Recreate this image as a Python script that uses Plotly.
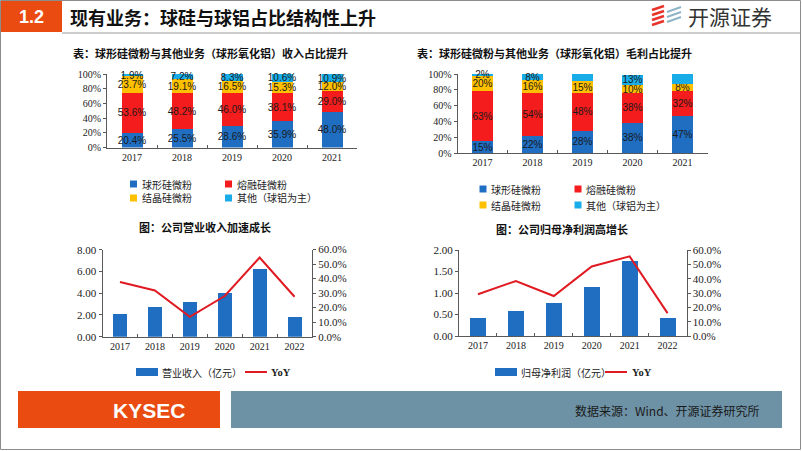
import plotly.graph_objects as go

W, H = 802, 451

# ---------------- data ----------------
years5 = ['2017', '2018', '2019', '2020', '2021']
years6 = ['2017', '2018', '2019', '2020', '2021', '2022']
series_names = ['球形硅微粉', '熔融硅微粉', '结晶硅微粉', '其他（球铝为主）']

rev_share_sph = [20.4, 25.5, 28.6, 35.9, 48.0]
rev_share_fused = [53.6, 48.2, 46.0, 38.1, 29.0]
rev_share_cryst = [23.7, 19.1, 16.5, 15.3, 12.0]
rev_share_other = [1.9, 7.2, 8.3, 10.6, 10.9]

gp_share_sph = [15, 22, 28, 38, 47]
gp_share_fused = [63, 54, 48, 38, 32]
gp_share_cryst = [20, 16, 15, 10, 8]
gp_share_other = [2, 8, 10, 13, 14]

revenue = [2.09, 2.77, 3.15, 4.04, 6.24, 1.80]
revenue_yoy = [0.376, 0.318, 0.137, 0.280, 0.545, 0.275]
net_profit = [0.42, 0.58, 0.76, 1.13, 1.74, 0.43]
net_profit_yoy = [0.291, 0.384, 0.279, 0.485, 0.556, 0.160]

pct_ticks = [0, 20, 40, 60, 80, 100]
pct_ticktext = ['0%', '20%', '40%', '60%', '80%', '100%']
revenue_ticks = [0, 2, 4, 6, 8]
revenue_ticktext = ['0.00', '2.00', '4.00', '6.00', '8.00']
profit_ticks = [0, 0.5, 1.0, 1.5, 2.0]
yoy_ticks = [0, 0.1, 0.2, 0.3, 0.4, 0.5, 0.6]

# ---------------- style ----------------
BLUE = '#1F6EC2'
RED = '#F41C1C'
GOLD = '#FFC000'
LBLUE = '#18ADE8'
LINE_RED = '#E01A22'
ORANGE = '#E94B10'
STEEL = '#6D91A5'
CJK = 'Noto Sans CJK SC'
SERIF = 'Liberation Serif'
SANS = 'Liberation Sans'
seg_colors = [BLUE, RED, GOLD, LBLUE]


def px(x):
    return x / W


def py(y):
    return 1 - y / H


fig = go.Figure()

# ---------------- top stacked charts ----------------
for xa, ya, data, tmpl in [
    ('x', 'y', [rev_share_sph, rev_share_fused, rev_share_cryst, rev_share_other], '%{y:.1f}%'),
    ('x2', 'y2', [gp_share_sph, gp_share_fused, gp_share_cryst, gp_share_other], '%{y:.0f}%'),
]:
    for name, vals, col in zip(series_names, data, seg_colors):
        fig.add_trace(go.Bar(
            x=years5, y=vals, name=name, width=0.42,
            marker=dict(color=col, line=dict(width=0)),
            texttemplate=tmpl, textposition='inside', insidetextanchor='middle',
            textangle=0, constraintext='none', cliponaxis=False,
            textfont=dict(family=SANS, size=10, color='#1a1a1a'),
            xaxis=xa, yaxis=ya, showlegend=False, hoverinfo='skip'))

# ---------------- bottom combo charts ----------------
fig.add_trace(go.Bar(x=years6, y=revenue, width=0.4, marker=dict(color=BLUE, line=dict(width=0)),
                     xaxis='x3', yaxis='y3', showlegend=False, name='营业收入（亿元）'))
fig.add_trace(go.Scatter(x=years6, y=revenue_yoy, mode='lines', line=dict(color=LINE_RED, width=2),
                         xaxis='x3', yaxis='y5', showlegend=False, name='YoY'))
fig.add_trace(go.Bar(x=years6, y=net_profit, width=0.42, marker=dict(color=BLUE, line=dict(width=0)),
                     xaxis='x4', yaxis='y4', showlegend=False, name='归母净利润（亿元）'))
fig.add_trace(go.Scatter(x=years6, y=net_profit_yoy, mode='lines', line=dict(color=LINE_RED, width=2),
                         xaxis='x4', yaxis='y6', showlegend=False, name='YoY'))

tickfont = dict(family=SERIF, size=10, color='#222222')
base = dict(showline=True, linecolor='#595959', linewidth=1, showgrid=False, zeroline=False,
            ticks='outside', ticklen=3, tickcolor='#595959', tickfont=tickfont, fixedrange=True,
            automargin=False, ticklabeloverflow='allow')
xbase = dict(base, type='category', ticks='inside', tickson='boundaries', ticklen=3)

fig.update_layout(
    template='none',
    width=W, height=H, margin=dict(l=0, r=0, t=0, b=0, pad=0, autoexpand=False),
    font=dict(family=SERIF, size=10, color='#222222'),
    showlegend=False,
    paper_bgcolor='white', plot_bgcolor='rgba(0,0,0,0)',
    barmode='stack', bargap=0.58,
    xaxis=dict(xbase, domain=[px(107), px(357)], anchor='y'),
    yaxis=dict(base, domain=[py(147.5), py(74)], anchor='x', range=[0, 100.01],
               tickvals=pct_ticks, ticktext=pct_ticktext),
    xaxis2=dict(xbase, domain=[px(457.5), px(707.5)], anchor='y2'),
    yaxis2=dict(base, domain=[py(153), py(74)], anchor='x2', range=[0, 100.01],
                tickvals=pct_ticks, ticktext=pct_ticktext),
    xaxis3=dict(xbase, domain=[px(102.5), px(312)], anchor='y3'),
    yaxis3=dict(base, domain=[py(336.7), py(249.5)], anchor='x3', range=[0, 8.03],
                tickvals=revenue_ticks, ticktext=revenue_ticktext, tickfont=dict(tickfont, size=11)),
    yaxis5=dict(base, overlaying='y3', side='right', anchor='x3', range=[0, 0.6001],
                tickvals=yoy_ticks, tickformat='.1%', tickfont=dict(tickfont, size=11)),
    xaxis4=dict(xbase, domain=[px(459), px(686.5)], anchor='y4'),
    yaxis4=dict(base, domain=[py(336), py(250)], anchor='x4', range=[0, 2.0002],
                tickvals=profit_ticks, tickformat='.2f', tickfont=dict(tickfont, size=11)),
    yaxis6=dict(base, overlaying='y4', side='right', anchor='x4', range=[0, 0.6001],
                tickvals=yoy_ticks, tickformat='.1%', tickfont=dict(tickfont, size=11)),
)

shapes = []
ann = []


def text(x, y, s, size=10, color='#222222', family=CJK, xanchor='left', bold=False):
    ann.append(dict(x=px(x), y=py(y), xref='paper', yref='paper', text=('<b>%s</b>' % s) if bold else s,
                    showarrow=False, xanchor=xanchor, yanchor='middle',
                    font=dict(family=family, size=size, color=color)))


def rect(x0, y0, x1, y1, color, line=None):
    shapes.append(dict(type='rect', xref='paper', yref='paper', x0=px(x0), x1=px(x1), y0=py(y1), y1=py(y0),
                       fillcolor=color, line=dict(width=0) if line is None else line, layer='above'))


def seg(x0, y0, x1, y1, color, width=1):
    shapes.append(dict(type='line', xref='paper', yref='paper', x0=px(x0), x1=px(x1), y0=py(y0), y1=py(y1),
                       line=dict(color=color, width=width), layer='above'))


# slide frame and header
shapes.append(dict(type='rect', xref='paper', yref='paper', x0=px(0.5), x1=px(800.5), y0=py(449.5), y1=py(0.5),
                   fillcolor='rgba(0,0,0,0)', line=dict(color='#8C8C8C', width=1), layer='below'))
rect(1, 1, 62, 32, ORANGE)
seg(62, 33, 800, 33, '#9A9A9A', 1)
text(31, 17, '1.2', size=18, color='white', family=SANS, xanchor='center', bold=True)
text(68, 17, '现有业务：球硅与球铝占比结构性上升', size=18, color='#111111', bold=True)
# logo
for i in range(4):
    seg(652, 25 - i * 5, 664, 21 - i * 5, '#E8342A', 2.5)
for i in range(3):
    seg(667, 22 - i * 5, 681, 17 - i * 5, '#8FB4C8', 2)
text(686, 16, '开源证券', size=21, color='#333333')

# chart titles
text(210, 53, '表：球形硅微粉与其他业务（球形氧化铝）收入占比提升', size=11, color='#111111',
     xanchor='center', bold=True)
text(554, 53, '表：球形硅微粉与其他业务（球形氧化铝）毛利占比提升', size=11, color='#111111',
     xanchor='center', bold=True)
text(205, 227, '图：公司营业收入加速成长', size=11, color='#111111', xanchor='center', bold=True)
text(562, 229, '图：公司归母净利润高增长', size=11, color='#111111', xanchor='center', bold=True)

# top legends
for (mx, row_y1, row_y2) in [(133.5, 184, 198), (483, 189, 205)]:
    col2 = 95
    pos = [(mx, row_y1), (mx + col2, row_y1), (mx, row_y2), (mx + col2, row_y2)]
    for (x, y), name, c in zip(pos, series_names, seg_colors):
        rect(x - 3.5, y - 3.5, x + 3.5, y + 3.5, c)
        text(x + 6, y, name, size=10, color='#222222')

# bottom legends
rect(136, 368, 158, 376, BLUE)
text(160, 372, '营业收入（亿元）', size=10, color='#222222')
seg(245, 372, 267, 372, LINE_RED, 2)
text(269, 372, 'YoY', size=10.5, color='#222222', family=SERIF, bold=True)

rect(495, 368, 517, 376, BLUE)
text(519, 372, '归母净利润（亿元）', size=10, color='#222222')
seg(605, 372, 627, 372, LINE_RED, 2)
text(630, 372, 'YoY', size=10.5, color='#222222', family=SERIF, bold=True)

# footer
rect(18, 391, 220, 428, ORANGE)
text(149, 410, 'KYSEC', size=21, color='white', family=SANS, xanchor='center', bold=True)
rect(231, 391, 782, 428, STEEL)
text(762, 410, '数据来源：Wind、开源证券研究所', size=12, color='#1a1a1a', xanchor='right')

fig.update_layout(shapes=shapes, annotations=ann)
fig.write_html('out.html', config={'displayModeBar': False, 'staticPlot': True, 'responsive': False},
               post_script="document.body.style.margin='0px';")
